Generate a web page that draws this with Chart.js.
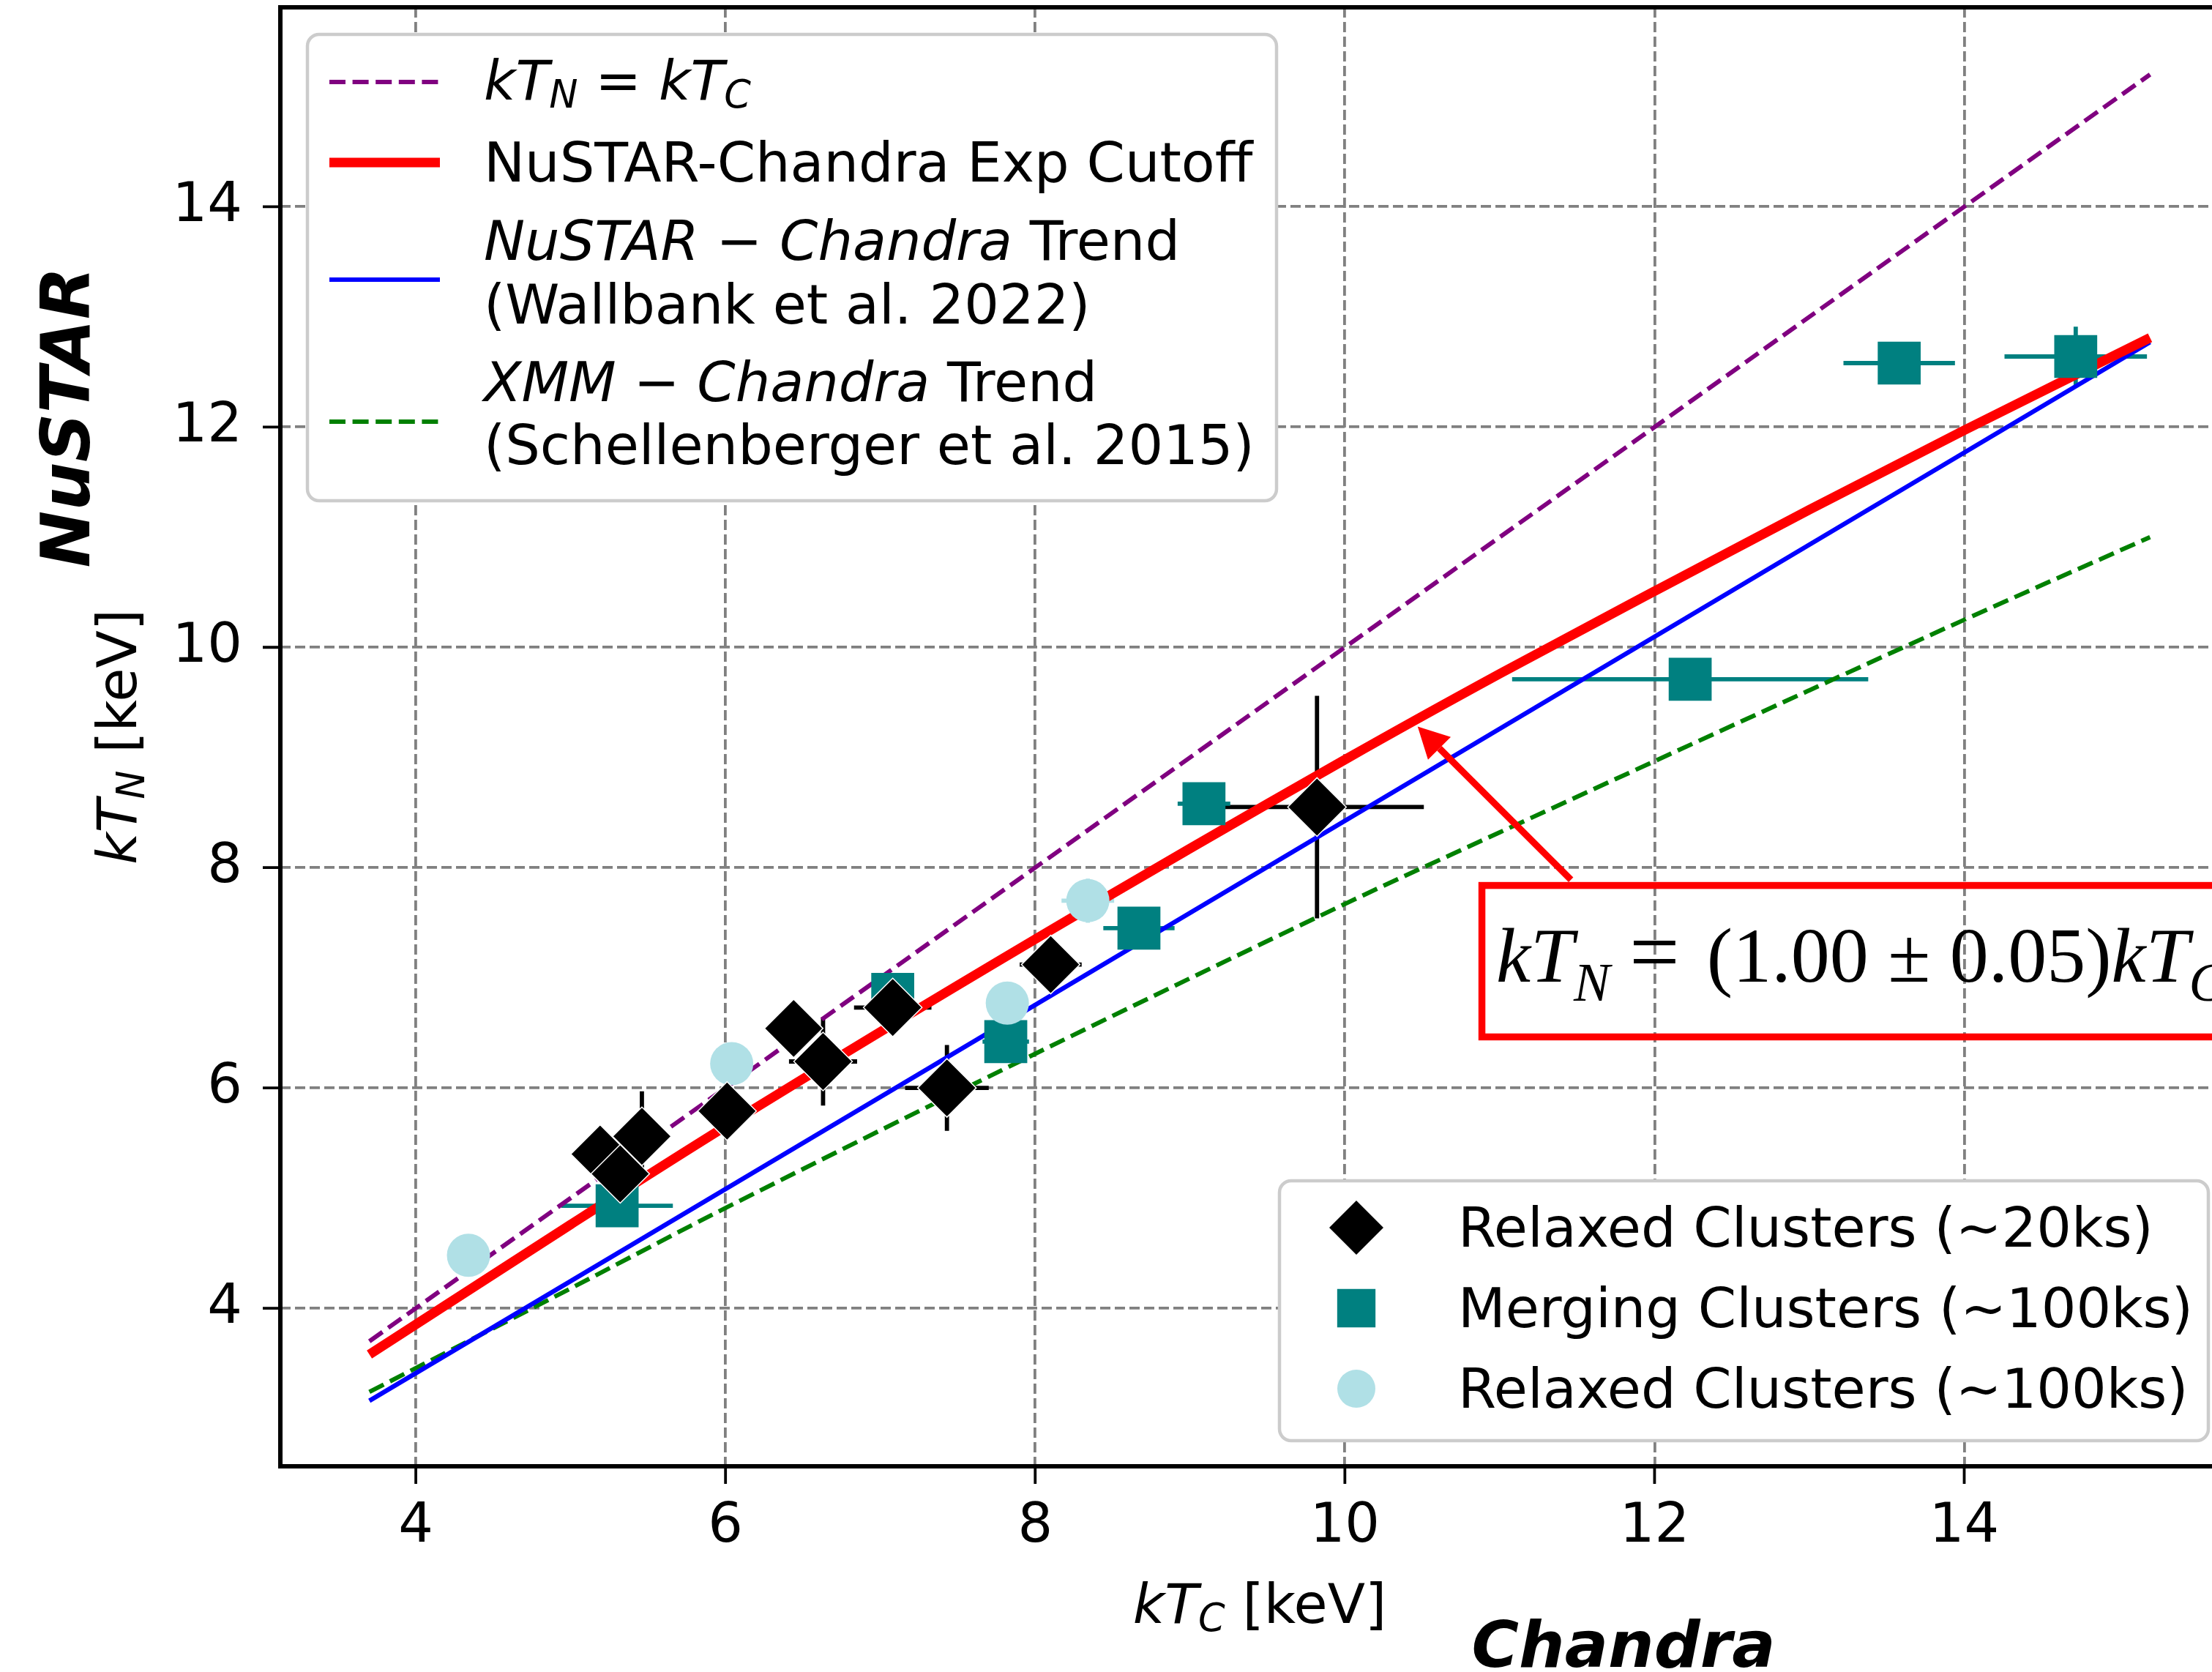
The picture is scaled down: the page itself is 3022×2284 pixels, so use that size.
<!DOCTYPE html>
<html>
<head>
<meta charset="utf-8">
<script src="https://cdn.jsdelivr.net/npm/chart.js@4.4.0/dist/chart.umd.min.js"></script>
<style>
html, body { margin: 0; padding: 0; background: #fff; overflow: hidden; }
#wrap { width: 3100px; height: 2284px; }
</style>
</head>
<body>
<div id="wrap"><canvas id="myChart" width="3100" height="2284"></canvas></div>
<script>
// trend lines (kT_C -> kT_N)
const equalX = [3.7, 15.2];
const equalY = [3.7, 15.2];

const cutoffX = [3.7, 5, 6, 8, 10, 11, 12, 13, 14, 15.2];
const cutoffY = [3.58, 4.76, 5.65, 7.35, 8.98, 9.76, 10.51, 11.25, 11.97, 12.81];

const wallbankX = [3.7, 15.2];
const wallbankY = [3.16, 12.77];

const schellX = [3.7, 5, 6, 10, 11, 13, 14, 15.2];
const schellY = [3.24, 4.18, 4.91, 7.67, 8.32, 9.61, 10.25, 11.0];

// clusters
const relaxed20X    = [5.19, 5.32, 5.46, 6.01, 6.63, 6.44, 7.08, 7.43, 8.10, 9.82];
const relaxed20Y    = [5.40, 5.22, 5.56, 5.79, 6.24, 6.54, 6.73, 6.00, 7.12, 8.55];
const relaxed20XErr = [0.10, 0.10, 0.10, 0.10, 0.22, 0.10, 0.25, 0.27, 0.20, 0.69];
const relaxed20YErr = [0.15, 0.15, 0.41, 0.15, 0.40, 0.15, 0.20, 0.39, 0.15, 1.01];

const merging100X    = [5.30, 7.08, 7.81, 8.67, 9.09, 12.23, 13.58, 14.72];
const merging100Y    = [4.93, 6.85, 6.42, 7.45, 8.58, 9.71, 12.58, 12.64];
const merging100XErr = [0.36, 0.12, 0.15, 0.23, 0.17, 1.15, 0.36, 0.46];
const merging100YErr = [0.10, 0.10, 0.10, 0.10, 0.10, 0.10, 0.10, 0.27];

const relaxed100X    = [4.34, 6.04, 7.82, 8.34];
const relaxed100Y    = [4.48, 6.22, 6.77, 7.70];
const relaxed100XErr = [0.10, 0.10, 0.12, 0.17];
const relaxed100YErr = [0.10, 0.10, 0.10, 0.20];

const xTicks = [4, 6, 8, 10, 12, 14];
const yTicks = [4, 6, 8, 10, 12, 14];

// text, as [text, style, extra gap in em, size factor]
const lineLabels = [
  [[['kT', 'i'], ['N', 'sub'], [' = ', 'n'], ['kT', 'i'], ['C', 'sub']]],
  [[['NuSTAR-Chandra Exp Cutoff', 'n']]],
  [[['NuSTAR', 'i'], [' \u2212 ', 'n'], ['Chandra', 'i'], [' Trend', 'n']], [['(Wallbank et al. 2022)', 'n']]],
  [[['XMM', 'i'], [' \u2212 ', 'n'], ['Chandra', 'i'], [' Trend', 'n']], [['(Schellenberger et al. 2015)', 'n']]]
];
const pointLabels = ['Relaxed Clusters (~20ks)', 'Merging Clusters (~100ks)', 'Relaxed Clusters (~100ks)'];
const fitText = [['kT', 'i'], ['N', 'sub'], [' ', 'n'], ['=', 'n', 0.1, 1.15], [' (1.00 \u00b1 0.05)', 'n'], ['kT', 'i'], ['C', 'sub']];
const xTitle = [['kT', 'i'], ['C', 'sub'], [' [keV]', 'n']];
const yTitle = [['kT', 'i'], ['N', 'sub'], [' [keV]', 'n']];

const SANS = '"DejaVu Sans"';
const SERIF = '"Liberation Serif"';

function pts(xs, ys) { return xs.map((x, i) => ({x: x, y: ys[i]})); }

function segFont(s, size, family) {
  const z = size * (s[3] || 1);
  if (s[1] === 'i') return 'italic ' + z + 'px ' + family;
  if (s[1] === 'sub') return 'italic ' + (z * 0.7) + 'px ' + family;
  return z + 'px ' + family;
}
function richWidth(ctx, segs, size, family) {
  let w = 0;
  segs.forEach(s => { ctx.font = segFont(s, size, family); w += ctx.measureText(s[0]).width + (s[2] || 0) * size; });
  return w;
}
function drawRich(ctx, segs, x, y, size, family, drop) {
  ctx.textAlign = 'left';
  ctx.textBaseline = 'alphabetic';
  segs.forEach(s => {
    ctx.font = segFont(s, size, family);
    ctx.fillText(s[0], x, s[1] === 'sub' ? y + drop * size : y);
    x += ctx.measureText(s[0]).width + (s[2] || 0) * size;
  });
}
function drawMarker(ctx, style, r, x, y) {
  ctx.beginPath();
  if (style === 'circle') ctx.arc(x, y, r, 0, Math.PI * 2);
  else if (style === 'rect') { const h = r * Math.SQRT1_2; ctx.rect(x - h, y - h, 2 * h, 2 * h); }
  else { ctx.moveTo(x - r, y); ctx.lineTo(x, y - r); ctx.lineTo(x + r, y); ctx.lineTo(x, y + r); ctx.closePath(); }
  ctx.fill();
}
function roundBox(ctx, x0, y0, x1, y1, r) {
  ctx.beginPath();
  ctx.moveTo(x0 + r, y0);
  ctx.arcTo(x1, y0, x1, y1, r);
  ctx.arcTo(x1, y1, x0, y1, r);
  ctx.arcTo(x0, y1, x0, y0, r);
  ctx.arcTo(x0, y0, x1, y0, r);
  ctx.closePath();
  ctx.fillStyle = '#fff';
  ctx.fill();
  ctx.lineWidth = 4.5;
  ctx.strokeStyle = '#cccccc';
  ctx.stroke();
}

const errorBars = {
  id: 'errorBars',
  beforeDatasetsDraw(chart) {
    const ctx = chart.ctx, xs = chart.scales.x, ys = chart.scales.y;
    ctx.save();
    ctx.lineWidth = 5.8;
    chart.data.datasets.forEach(ds => {
      if (!ds.xErr) return;
      ctx.strokeStyle = ds.errColor;
      ds.data.forEach((p, i) => {
        const px = xs.getPixelForValue(p.x), py = ys.getPixelForValue(p.y);
        ctx.beginPath();
        ctx.moveTo(xs.getPixelForValue(p.x - ds.xErr[i]), py);
        ctx.lineTo(xs.getPixelForValue(p.x + ds.xErr[i]), py);
        ctx.moveTo(px, ys.getPixelForValue(p.y - ds.yErr[i]));
        ctx.lineTo(px, ys.getPixelForValue(p.y + ds.yErr[i]));
        ctx.stroke();
      });
    });
    ctx.restore();
  }
};

const decorations = {
  id: 'decorations',
  afterDatasetsDraw(chart) {
    const ctx = chart.ctx, a = chart.chartArea, xs = chart.scales.x, ys = chart.scales.y;
    ctx.save();
    // frame and outward ticks
    ctx.lineWidth = 6;
    ctx.strokeStyle = '#000';
    ctx.strokeRect(a.left, a.top, a.right - a.left, a.bottom - a.top);
    ctx.lineWidth = 3.8;
    ctx.beginPath();
    xTicks.forEach(v => { const p = xs.getPixelForValue(v); ctx.moveTo(p, a.bottom); ctx.lineTo(p, a.bottom + 24); });
    yTicks.forEach(v => { const p = ys.getPixelForValue(v); ctx.moveTo(a.left, p); ctx.lineTo(a.left - 24, p); });
    ctx.stroke();

    // fit annotation
    ctx.strokeStyle = '#ff0000';
    ctx.fillStyle = '#ff0000';
    ctx.lineWidth = 9.5;
    const bx0 = xs.getPixelForValue(10.885), bx1 = xs.getPixelForValue(16.8);
    const by0 = ys.getPixelForValue(7.838), by1 = ys.getPixelForValue(6.463);
    ctx.strokeRect(bx0, by0, bx1 - bx0, by1 - by0);
    const tx = xs.getPixelForValue(11.46), ty = ys.getPixelForValue(7.89);
    const hx = xs.getPixelForValue(10.47), hy = ys.getPixelForValue(9.28);
    const ang = Math.atan2(hy - ty, hx - tx), hl = 42, hw = 22;
    const bxm = hx - hl * Math.cos(ang), bym = hy - hl * Math.sin(ang);
    ctx.lineWidth = 9;
    ctx.beginPath();
    ctx.moveTo(tx, ty);
    ctx.lineTo(bxm, bym);
    ctx.stroke();
    ctx.beginPath();
    ctx.moveTo(hx, hy);
    ctx.lineTo(bxm + hw * Math.sin(ang), bym - hw * Math.cos(ang));
    ctx.lineTo(bxm - hw * Math.sin(ang), bym + hw * Math.cos(ang));
    ctx.closePath();
    ctx.fill();
    ctx.fillStyle = '#000';
    drawRich(ctx, fitText, xs.getPixelForValue(10.977), ys.getPixelForValue(6.965), 106, SERIF, 0.245);
    ctx.restore();
  },
  afterDraw(chart) {
    const ctx = chart.ctx, a = chart.chartArea, ds = chart.data.datasets;
    ctx.save();
    ctx.fillStyle = '#000';

    // axis titles
    const xw = richWidth(ctx, xTitle, 75, SANS);
    drawRich(ctx, xTitle, (a.left + a.right) / 2 - xw / 2, 2217, 75, SANS, 0.147);
    ctx.save();
    ctx.translate(186, (a.top + a.bottom) / 2);
    ctx.rotate(-Math.PI / 2);
    const yw = richWidth(ctx, yTitle, 75, SANS);
    drawRich(ctx, yTitle, -yw / 2, 0, 75, SANS, 0.147);
    ctx.restore();

    ctx.font = 'italic bold 88px ' + SANS;
    ctx.textAlign = 'center';
    ctx.textBaseline = 'alphabetic';
    ctx.fillText('Chandra', 2218, 2277);
    ctx.save();
    ctx.translate(122, 570);
    ctx.rotate(-Math.PI / 2);
    ctx.font = 'italic bold 93px ' + SANS;
    ctx.fillText('NuSTAR', 0, 0);
    ctx.restore();

    // legend for the trend lines
    roundBox(ctx, 420, 47, 1744, 684, 16);
    const handleY = [112, 222, 382, 576];
    const baseY = [[136], [248], [355, 442], [548, 634]];
    for (let i = 0; i < 4; i++) {
      const d = ds[i];
      ctx.save();
      ctx.strokeStyle = d.borderColor;
      ctx.lineWidth = d.borderWidth;
      ctx.setLineDash(d.borderDash || []);
      ctx.beginPath();
      ctx.moveTo(450, handleY[i]);
      ctx.lineTo(601, handleY[i]);
      ctx.stroke();
      ctx.restore();
      ctx.fillStyle = '#000';
      lineLabels[i].forEach((row, k) => drawRich(ctx, row, 661, baseY[i][k], 75, SANS, 0.147));
    }

    // legend for the clusters
    roundBox(ctx, 1748, 1613, 3017, 1968, 16);
    const rowY = [1677, 1787, 1897];
    const legR = {rectRot: 37, rect: 37, circle: 26};
    for (let i = 0; i < 3; i++) {
      const d = ds[4 + i];
      ctx.fillStyle = d.backgroundColor;
      drawMarker(ctx, d.pointStyle, legR[d.pointStyle], 1853, rowY[i]);
      ctx.fillStyle = '#000';
      ctx.font = '75px ' + SANS;
      ctx.textAlign = 'left';
      ctx.textBaseline = 'alphabetic';
      ctx.fillText(pointLabels[i], 1992, rowY[i] + 26);
    }
    ctx.restore();
  }
};

const lineStyle = { showLine: true, pointRadius: 0, pointHoverRadius: 0, fill: false, order: 3 };
const gridStyle = { color: '#808080', lineWidth: 3.8, tickColor: 'rgba(0,0,0,0)', tickBorderDash: [] };

new Chart(document.getElementById('myChart'), {
  type: 'scatter',
  data: {
    datasets: [
      Object.assign({ label: 'kT_N = kT_C', data: pts(equalX, equalY), borderColor: 'purple', borderWidth: 6, borderDash: [22, 9.6] }, lineStyle),
      Object.assign({ label: 'NuSTAR-Chandra Exp Cutoff', data: pts(cutoffX, cutoffY), borderColor: '#ff0000', borderWidth: 13, cubicInterpolationMode: 'monotone' }, lineStyle),
      Object.assign({ label: 'NuSTAR - Chandra Trend (Wallbank et al. 2022)', data: pts(wallbankX, wallbankY), borderColor: '#0000ff', borderWidth: 6.2 }, lineStyle),
      Object.assign({ label: 'XMM - Chandra Trend (Schellenberger et al. 2015)', data: pts(schellX, schellY), borderColor: 'green', borderWidth: 6, borderDash: [22, 9.6], cubicInterpolationMode: 'monotone' }, lineStyle),
      {
        label: pointLabels[0], data: pts(relaxed20X, relaxed20Y), xErr: relaxed20XErr, yErr: relaxed20YErr, errColor: '#000',
        pointStyle: 'rectRot', pointRadius: 40, pointHoverRadius: 40, backgroundColor: '#000', borderColor: '#fff', borderWidth: 1.5, order: 0
      },
      {
        label: pointLabels[1], data: pts(merging100X, merging100Y), xErr: merging100XErr, yErr: merging100YErr, errColor: 'teal',
        pointStyle: 'rect', pointRadius: 41.5, pointHoverRadius: 41.5, backgroundColor: 'teal', borderColor: 'teal', borderWidth: 0, order: 2
      },
      {
        label: pointLabels[2], data: pts(relaxed100X, relaxed100Y), xErr: relaxed100XErr, yErr: relaxed100YErr, errColor: 'powderblue',
        pointStyle: 'circle', pointRadius: 29.5, pointHoverRadius: 29.5, backgroundColor: 'powderblue', borderColor: 'powderblue', borderWidth: 0, order: 1
      }
    ]
  },
  options: {
    responsive: false,
    animation: false,
    devicePixelRatio: 1,
    layout: { autoPadding: false, padding: { top: 10, right: 41, left: 0, bottom: 0 } },
    plugins: { legend: { display: false }, tooltip: { enabled: false } },
    scales: {
      x: {
        type: 'linear', min: 3.125, max: 15.775,
        border: { display: false, dash: [14, 6] },
        grid: Object.assign({ tickLength: 39 }, gridStyle),
        ticks: { font: { family: 'DejaVu Sans', size: 75 }, color: '#000', padding: 0, maxRotation: 0, autoSkip: false, callback: v => String(v) },
        afterBuildTicks: s => { s.ticks = xTicks.map(v => ({ value: v })); },
        afterFit: s => { s.height = 281; s.paddingLeft = 0; s.paddingRight = 0; }
      },
      y: {
        type: 'linear', min: 2.565, max: 15.81,
        border: { display: false, dash: [14, 6] },
        grid: Object.assign({ tickLength: 52 }, gridStyle),
        ticks: { font: { family: 'DejaVu Sans', size: 75 }, color: '#000', padding: 0, autoSkip: false, callback: v => String(v) },
        afterBuildTicks: s => { s.ticks = yTicks.map(v => ({ value: v })); },
        afterFit: s => { s.width = 383; s.paddingTop = 0; s.paddingBottom = 0; }
      }
    }
  },
  plugins: [errorBars, decorations]
});
</script>
</body>
</html>
